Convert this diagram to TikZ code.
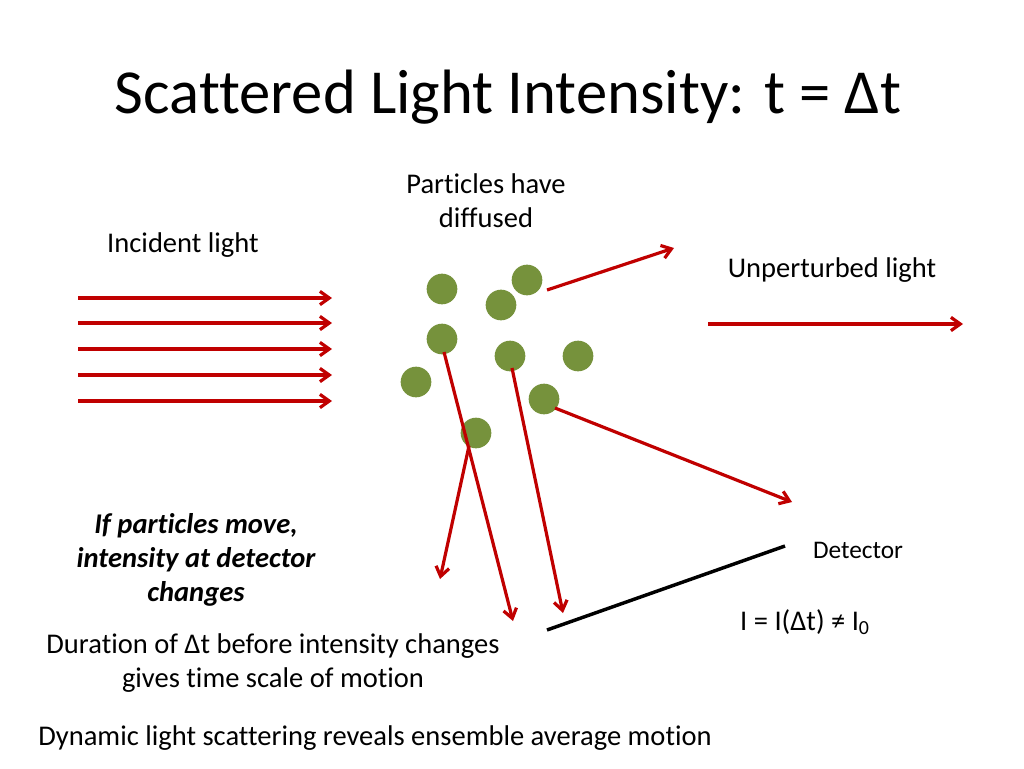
\documentclass[tikz,border=0pt]{standalone}
\usepackage{fontspec}
\setmainfont{Carlito}[Ligatures={NoCommon}]
\usetikzlibrary{arrows.meta}
\definecolor{dred}{RGB}{192,0,0}
\definecolor{pgreen}{RGB}{118,146,60}
\begin{document}
\begin{tikzpicture}[x=0.75pt,y=-0.75pt,
  ray/.style={draw=dred,line width=2.4pt,-{Straight Barb[length=7pt,width=10pt]}},
  part/.style={circle,fill=pgreen,minimum size=23pt,inner sep=0pt},
  txt/.style={font=\fontsize{21.4}{25.5}\selectfont,align=center}]
\useasboundingbox (0,0) rectangle (1024,768);
\node[font=\fontsize{47}{54}\selectfont] (title) at (508,97) {Scattered Light Intensity: t = Δt};
\foreach \n/\x/\y in {p1/442/289,p2/527/280,p3/501/305,p4/442/339,p5/510/356,p6/578/356,p7/416/382,p8/544/399,p9/476/433}
  \node[part] (\n) at (\x,\y) {};
\foreach \i/\y in {1/298,2/323,3/349,4/375,5/401}{
  \coordinate (a\i) at (78,\y); \coordinate (b\i) at (332,\y);
  \draw[ray] (a\i) -- (b\i);}
\coordinate (u1) at (708,324); \coordinate (u2) at (963,324);
\draw[ray] (u1) -- (u2);
\coordinate (s1) at (547,290); \coordinate (e1) at (674,248);
\coordinate (s2) at (444,352); \coordinate (e2) at (513,621);
\coordinate (s3) at (512,368); \coordinate (e3) at (563,613);
\coordinate (s4) at (555,408); \coordinate (e4) at (792,502);
\coordinate (s5) at (469,446); \coordinate (e5) at (440,579);
\foreach \i in {1,...,5} \draw[ray] (s\i) -- (e\i);
\coordinate (d1) at (547,630); \coordinate (d2) at (785,546);
\draw[line width=2.6pt] (d1) -- (d2);
\node[txt] (pd) at (486,201) {Particles have\\diffused};
\node[txt] (il) at (183,245) {Incident light};
\node[txt] (ul) at (832,270) {Unperturbed light};
\node[font=\fontsize{19}{22}\selectfont] (det) at (858,550) {Detector};
\node[txt] (eq) at (805,622) {I = I(Δt) ≠ I\textsubscript{0}};
\node[txt,font=\fontsize{21.4}{25.5}\selectfont\bfseries\itshape] (move) at (196,560) {If particles move,\\intensity at detector\\changes};
\node[txt] (dur) at (273,663) {Duration of Δt before intensity changes\\gives time scale of motion};
\node[txt] (dyn) at (375,738) {Dynamic light scattering reveals ensemble average motion};
\end{tikzpicture}
\end{document}
